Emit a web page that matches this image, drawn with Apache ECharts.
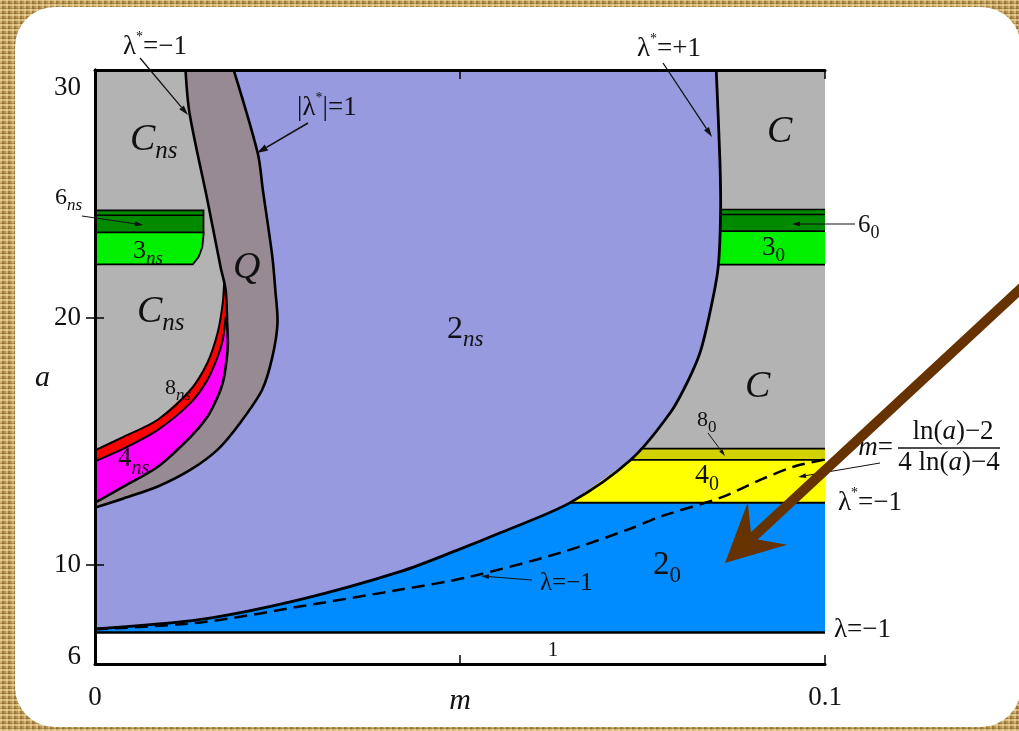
<!DOCTYPE html>
<html>
<head>
<meta charset="utf-8">
<script src="https://cdn.jsdelivr.net/npm/echarts@6/dist/echarts.min.js"></script>
<style>
  html, body { margin: 0; padding: 0; width: 1019px; height: 731px; overflow: hidden; }
  body {
    background-color: #b99554;
    background-image:
      repeating-linear-gradient(0deg, rgba(250,228,170,0.55) 0 2px, rgba(110,75,25,0.28) 2px 3px, transparent 3px 5px),
      repeating-linear-gradient(90deg, rgba(245,215,150,0.45) 0 2px, rgba(95,65,20,0.30) 2px 4px, transparent 4px 6px);
  }
  #card { position: absolute; left: 15px; top: 7px; width: 1006px; height: 720px; background: #fff; border-radius: 40px; }
  #chart { position: absolute; left: 0; top: 0; width: 1019px; height: 731px; }
</style>
</head>
<body>
<div id="card"></div>
<div id="chart"></div>
<script>
// ---- axes ----
const mTickValues = [0, 0.05, 0.1];
const mLabelValues = [0, 0.1];
const aTickValues = [10, 20];
const aLabelValues = [6, 10, 20, 30];

// ---- horizontal boundaries (a) ----
const aLambdaFixed = 7.27;      // λ = −1 : region 1 / 2_0
const aStarLower = 12.52;       // λ* = −1 : 2_0 / 4_0
const a4Top = 14.25;            // 4_0 / 8_0
const a8Top = 14.70;            // 8_0 / C
const a3RightBottom = 22.14, a3RightTop = 23.49, a6RightLine = 24.16, a6RightTop = 24.36;
const a3LeftBottom = 22.15, a3LeftTop = 23.44, a6LeftLine = 24.13, a6LeftTop = 24.33;
const mLeftBandEdge = 0.01486;

// ---- curves, [m, a] ----
// λ* = +1 : right / lower edge of 2_ns
const lambdaStarPlus = [[0, 7.42], [0.0145, 7.80], [0.0282, 8.61], [0.0419, 9.74], [0.0499, 10.63],
  [0.0556, 11.31], [0.0651, 12.52], [0.0734, 14.25], [0.0788, 16.15], [0.0813, 17.48],
  [0.0830, 18.69], [0.0846, 20.71], [0.0854, 22.12], [0.0857, 24.33], [0.0856, 26.35], [0.0851, 30]];
// λ = −1 (dashed), m = (ln a − 2)/(4 ln a − 4)
const lambdaMinusDashed = [[0, 7.40], [0.0145, 7.68], [0.0282, 8.33], [0.0419, 9.01], [0.0510, 9.50],
  [0.0638, 10.50], [0.0730, 11.43], [0.0775, 11.96], [0.0857, 12.72], [0.0912, 13.45],
  [0.0957, 13.97], [0.0998, 14.25]];
// λ* = −1 : left edge of Q
const lambdaStarMinus = [[0.0124, 30], [0.01295, 28.25], [0.0154, 24.74], [0.0172, 22.04], [0.0179, 21.11],
  [0.0181, 19.78], [0.0182, 18.89], [0.0179, 18.0], [0.0175, 17.36], [0.0168, 16.79],
  [0.0154, 15.99], [0.0131, 15.18], [0.0086, 13.97], [0.0039, 13.17], [0, 12.52]];
// |λ*| = 1 : right edge of Q
const absLambdaStar = [[0.0190, 30], [0.0223, 26.63], [0.0230, 25.14], [0.0243, 22.44], [0.0247, 21.11],
  [0.0250, 19.78], [0.0243, 18.41], [0.0229, 17.08], [0.0199, 15.75], [0.0168, 14.66],
  [0.0131, 13.85], [0.0086, 13.17], [0.0039, 12.69], [0, 12.32]];
// 8_ns band
const band8Top = [[0, 14.63], [0.0039, 15.18], [0.0086, 15.87], [0.0131, 17.08], [0.0154, 18.17],
  [0.0168, 19.38], [0.0175, 20.59], [0.0177, 21.51]];
const band8Bottom = [[0, 14.19], [0.0039, 14.70], [0.0086, 15.46], [0.0131, 16.55], [0.0154, 17.48],
  [0.0168, 18.41], [0.0175, 19.09], [0.0179, 20.02]];
// rounded right edge of 3_ns
const band3LeftEdge = [[0.0149, 23.44], [0.0147, 22.85], [0.0142, 22.45], [0.0134, 22.15]];

// ---- colours ----
const C = {
  lavender: '#989ae0', blue: '#008cff', yellow: '#ffff00', olive: '#d2d200', gray: '#b3b3b3',
  mauve: '#978a93', red: '#ff0000', magenta: '#ff00ff', green: '#00f000', darkGreen: '#008a00'
};

const FONT = '"Liberation Serif","Times New Roman",serif';

function rect(m0, m1, a0, a1) { return [[m0, a0], [m1, a0], [m1, a1], [m0, a1]]; }

function fillSeries(points, fill) {
  return {
    type: 'custom', coordinateSystem: 'cartesian2d', clip: true, silent: true,
    data: points, encode: { x: 0, y: 1 },
    renderItem: function (params, api) {
      if (params.dataIndex !== 0) return null;
      return { type: 'polygon', shape: { points: points.map(p => api.coord(p)) },
        style: { fill: fill, stroke: null } };
    }
  };
}
function strokeSeries(points, width, dash, smooth) {
  return {
    type: 'custom', coordinateSystem: 'cartesian2d', clip: true, silent: true,
    data: points, encode: { x: 0, y: 1 },
    renderItem: function (params, api) {
      if (params.dataIndex !== 0) return null;
      return { type: 'polyline', shape: { points: points.map(p => api.coord(p)), smooth: smooth || 0 },
        style: { fill: null, stroke: '#000', lineWidth: width, lineDash: dash || null } };
    }
  };
}
function hLine(a, m0, m1, w) { return strokeSeries([[m0, a], [m1, a]], w); }

// regions assembled from the boundaries
const qRegion = lambdaStarMinus.concat(absLambdaStar.slice().reverse());
const cnsRegion = [[0, 30]].concat(lambdaStarMinus);
const magentaRegion = band8Bottom.concat(lambdaStarMinus.filter(p => p[1] < 20.02));
const redRegion = band8Top.concat([[0.0179, 21.11]], band8Bottom.slice().reverse());
const lavenderRegion = lambdaStarPlus.concat([[0, 30]]);
const green3Left = [[0, a3LeftBottom], [0, a3LeftTop]].concat(band3LeftEdge);
const leftBandOutline = [[0, a6LeftTop], [mLeftBandEdge, a6LeftTop], [mLeftBandEdge, a3LeftTop]]
  .concat(band3LeftEdge, [[0, a3LeftBottom]]);

const series = [
  fillSeries(rect(0, 0.1, aLambdaFixed, aStarLower), C.blue),
  fillSeries(rect(0, 0.1, aStarLower, a4Top), C.yellow),
  fillSeries(rect(0, 0.1, a4Top, a8Top), C.olive),
  fillSeries(rect(0, 0.1, a8Top, 30), C.gray),
  fillSeries(rect(0.06, 0.1, a3RightBottom, a3RightTop), C.green),
  fillSeries(rect(0.06, 0.1, a3RightTop, a6RightTop), C.darkGreen),
  hLine(aLambdaFixed, 0, 0.1, 2.5),
  hLine(aStarLower, 0, 0.1, 2),
  hLine(a4Top, 0, 0.1, 1.8),
  hLine(a8Top, 0, 0.1, 1.8),
  hLine(a3RightBottom, 0, 0.1, 1.8),
  hLine(a3RightTop, 0, 0.1, 1.8),
  hLine(a6RightLine, 0, 0.1, 1.5),
  hLine(a6RightTop, 0, 0.1, 1.5),
  fillSeries(lavenderRegion, C.lavender),
  strokeSeries(lambdaMinusDashed, 2.5, [13, 7], 0.3),
  strokeSeries(lambdaStarPlus, 2.8, null, 0.3),
  fillSeries(qRegion, C.mauve),
  fillSeries(cnsRegion, C.gray),
  fillSeries(rect(0, mLeftBandEdge, a3LeftTop, a6LeftTop), C.darkGreen),
  fillSeries(green3Left, C.green),
  strokeSeries(leftBandOutline, 1.8),
  hLine(a3LeftTop, 0, mLeftBandEdge, 1.8),
  hLine(a6LeftLine, 0, mLeftBandEdge, 1.5),
  fillSeries(redRegion, C.red),
  fillSeries(magentaRegion, C.magenta),
  strokeSeries(band8Top, 2, null, 0.3),
  strokeSeries(band8Bottom, 2, null, 0.3),
  strokeSeries(lambdaStarMinus, 2.6, null, 0.3),
  strokeSeries(absLambdaStar, 2.6, null, 0.3)
];

// ---- text helpers ----
const ctx2d = document.createElement('canvas').getContext('2d');
function fontStr(p) { return (p.italic ? 'italic ' : '') + p.size + 'px ' + FONT; }
function measure(p) { ctx2d.font = fontStr(p); return ctx2d.measureText(p.t).width; }
function textRun(x, y, parts, anchor) {
  const widths = parts.map(measure);
  const total = widths.reduce((s, w) => s + w, 0);
  let cx = anchor === 'center' ? x - total / 2 : (anchor === 'right' ? x - total : x);
  return parts.map((p, i) => {
    const el = { type: 'text', z: 50, silent: true, x: cx, y: y + (p.dy || 0),
      style: { text: p.t, font: fontStr(p), fill: '#111', textAlign: 'left', textVerticalAlign: 'middle',
        align: 'left', verticalAlign: 'middle' } };
    cx += widths[i];
    return el;
  });
}
function subLabel(base, sub, size, subSize, italicBase, italicSub, dy) {
  return [{ t: base, size: size, italic: italicBase }, { t: sub, size: subSize, italic: italicSub, dy: dy }];
}
function lamStar(rest, size) {
  return [{ t: 'λ', size: size }, { t: '*', size: 14, dy: -10 }, { t: rest, size: size }];
}
function leader(x1, y1, x2, y2, lw, hl, hw) {
  const dx = x2 - x1, dy = y2 - y1, L = Math.hypot(dx, dy), ux = dx / L, uy = dy / L, nx = -uy, ny = ux;
  const bx = x2 - ux * hl, by = y2 - uy * hl;
  return [
    { type: 'line', z: 50, silent: true, shape: { x1: x1, y1: y1, x2: bx, y2: by }, style: { stroke: '#111', lineWidth: lw } },
    { type: 'polygon', z: 50, silent: true, shape: { points: [[x2, y2], [bx + nx * hw, by + ny * hw], [bx - nx * hw, by - ny * hw]] },
      style: { fill: '#111' } }
  ];
}
function bigArrow(sx, sy, tx, ty, shaft, headLen, headHalf, notch, color) {
  const dx = tx - sx, dy = ty - sy, L = Math.hypot(dx, dy), ux = dx / L, uy = dy / L, nx = -uy, ny = ux;
  const N = [tx - ux * notch, ty - uy * notch], B = [tx - ux * headLen, ty - uy * headLen];
  const h = shaft / 2;
  const pts = [[sx + nx * h, sy + ny * h], [N[0] + nx * h, N[1] + ny * h], [B[0] + nx * headHalf, B[1] + ny * headHalf],
    [tx, ty], [B[0] - nx * headHalf, B[1] - ny * headHalf], [N[0] - nx * h, N[1] - ny * h], [sx - nx * h, sy - ny * h]];
  return { type: 'polygon', z: 70, silent: true, shape: { points: pts }, style: { fill: color } };
}

const S = 27;
let graphics = [];
function add(arr) { graphics = graphics.concat(arr); }
// region names
add(textRun(130, 140, subLabel('C', 'ns', 38, 25, true, true, 11)));
add(textRun(137, 312, subLabel('C', 'ns', 38, 25, true, true, 11)));
add(textRun(133, 251, subLabel('3', 'ns', 26, 19, false, true, 8)));
add(textRun(233, 268, [{ t: 'Q', size: 38, italic: true }]));
add(textRun(447, 330, subLabel('2', 'ns', 32, 23, false, true, 10)));
add(textRun(165, 388, subLabel('8', 'ns', 22, 17, false, true, 8)));
add(textRun(118, 459, subLabel('4', 'ns', 27, 20, false, true, 10)));
add(textRun(767, 132, [{ t: 'C', size: 38, italic: true }]));
add(textRun(762, 248, subLabel('3', '0', 27, 19, false, false, 8)));
add(textRun(745, 387, [{ t: 'C', size: 38, italic: true }]));
add(textRun(697, 420, subLabel('8', '0', 22, 17, false, false, 8)));
add(textRun(695, 476, subLabel('4', '0', 28, 20, false, false, 9)));
add(textRun(653, 565, subLabel('2', '0', 33, 23, false, false, 11)));
add(textRun(553, 650, [{ t: '1', size: 21 }], 'center'));
// outside annotations
add(textRun(55, 198, subLabel('6', 'ns', 24, 17, false, true, 8)));
add(leader(82, 216, 143, 225, 1, 8, 2.5));
add(textRun(858, 225, subLabel('6', '0', 25, 18, false, false, 8)));
add(leader(855, 224, 792, 224, 1, 8, 2.5));
add(textRun(123, 47, lamStar('=−1', S)));
add(leader(140, 58, 188, 115, 1.3, 10, 3));
add(textRun(637, 49, lamStar('=+1', S)));
add(leader(663, 63, 712, 137, 1.3, 10, 3));
add(textRun(297, 108, [{ t: '|λ', size: S }, { t: '*', size: 14, dy: -10 }, { t: '|=1', size: S }]));
add(leader(308, 123, 257, 153, 1.6, 11, 3.5));
add(leader(708, 433, 725, 456, 1, 7, 2));
add(textRun(540, 583, [{ t: 'λ=−1', size: 25 }]));
add(leader(532, 580, 481, 576, 1, 8, 2.5));
add(textRun(838, 503, lamStar('=−1', S)));
add(textRun(834, 630, [{ t: 'λ=−1', size: S }]));
// m = (ln(a) − 2) / (4 ln(a) − 4)
add(textRun(893, 448, [{ t: 'm', size: S, italic: true }, { t: '=', size: S }], 'right'));
add(textRun(953, 432, [{ t: 'ln(', size: S }, { t: 'a', size: S, italic: true }, { t: ')−2', size: S }], 'center'));
add(textRun(949, 463, [{ t: '4 ln(', size: S }, { t: 'a', size: S, italic: true }, { t: ')−4', size: S }], 'center'));
graphics.push({ type: 'line', z: 50, silent: true, shape: { x1: 898, y1: 448, x2: 1000, y2: 448 }, style: { stroke: '#111', lineWidth: 1.3 } });
add(leader(880, 463, 798, 477, 1, 8, 2.5));
// brown pointer
graphics.push(bigArrow(1030, 280, 725, 563, 10, 58, 29, 40, '#663300'));

const tickLabelStyle = { fontFamily: FONT, fontSize: S, color: '#111' };
const axisLineStyle = { show: true, lineStyle: { color: '#000', width: 3 } };

const option = {
  animation: false,
  backgroundColor: 'transparent',
  grid: { left: 95, top: 70, width: 730, height: 594, containLabel: false, outerBoundsMode: 'none' },
  xAxis: [
    { type: 'value', min: 0, max: 0.1, position: 'bottom', z: 10,
      axisLine: axisLineStyle, splitLine: { show: false },
      axisTick: { show: true, inside: true, length: 9, customValues: mTickValues, lineStyle: { color: '#000', width: 1.5 } },
      axisLabel: Object.assign({ customValues: mLabelValues, margin: 20, formatter: v => String(v) }, tickLabelStyle),
      name: 'm', nameLocation: 'middle', nameGap: 22, nameMoveOverlap: false,
      nameTextStyle: { fontFamily: FONT, fontSize: 30, fontStyle: 'italic', color: '#111' } },
    { type: 'value', min: 0, max: 0.1, position: 'top', z: 10,
      axisLine: axisLineStyle, splitLine: { show: false },
      axisTick: { show: true, inside: true, length: 9, customValues: mTickValues, lineStyle: { color: '#000', width: 1.5 } },
      axisLabel: { show: false } }
  ],
  yAxis: [
    { type: 'value', min: 6, max: 30, position: 'left', z: 10,
      axisLine: axisLineStyle, splitLine: { show: false },
      axisTick: { show: true, inside: true, length: 9, customValues: aTickValues, lineStyle: { color: '#000', width: 1.5 } },
      axisLabel: Object.assign({
        customValues: aLabelValues, margin: 14,
        formatter: v => v === 30 ? '{top|30}' : (v === 6 ? '{bot|6}' : '{n|' + v + '}'),
        rich: {
          top: Object.assign({ padding: [36, 0, 0, 0] }, tickLabelStyle),
          bot: Object.assign({ padding: [0, 0, 14, 0] }, tickLabelStyle),
          n: Object.assign({}, tickLabelStyle)
        }
      }, tickLabelStyle),
      name: '{v|a}', nameLocation: 'middle', nameGap: 45, nameRotate: 0, nameMoveOverlap: false,
      nameTextStyle: { rich: { v: { fontFamily: FONT, fontSize: 30, fontStyle: 'italic', color: '#111', padding: [22, 0, 0, 0] } } } },
    { type: 'value', min: 6, max: 30, position: 'right', z: 10,
      axisLine: axisLineStyle, splitLine: { show: false },
      axisTick: { show: true, inside: true, length: 9, customValues: aTickValues, lineStyle: { color: '#000', width: 1.5 } },
      axisLabel: { show: false } }
  ],
  series: series,
  graphic: { elements: graphics }
};

const chart = echarts.init(document.getElementById('chart'), null, { renderer: 'canvas' });
chart.setOption(option);
</script>
</body>
</html>
